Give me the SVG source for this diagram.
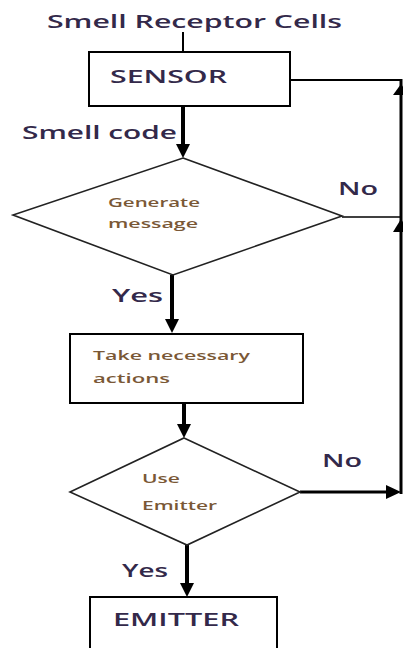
<svg xmlns="http://www.w3.org/2000/svg" width="403" height="648" viewBox="0 0 403 648">
<style>
  .box{fill:#fff;stroke:#000;stroke-width:2}
  .dia{fill:#fff;stroke:#222;stroke-width:1.6}
  .thin{stroke:#000;stroke-width:2;fill:none}
  .thick{stroke:#000;stroke-width:4;fill:none}
  .head{fill:#000}
  .big{font-family:"Open Sans","Liberation Sans",sans-serif;font-size:18px;font-weight:600;fill:#33294a}
  .small{font-family:"Open Sans","Liberation Sans",sans-serif;font-size:13px;font-weight:600;fill:#7a5836}
</style>
<rect width="403" height="648" fill="#fff"/>
<g id="connectors">
  <line class="thin" x1="183" y1="32" x2="183" y2="52"/>
  <line class="thin" x1="290" y1="80" x2="402" y2="80"/>
  <line x1="401" y1="79" x2="401" y2="494" stroke="#000" stroke-width="3"/>
  <polygon class="head" points="401,84 393,95 409,95"/>
  <polygon class="head" points="401,219 393,232 409,232"/>
  <line x1="342" y1="217" x2="401" y2="217" stroke="#000" stroke-width="1.6"/>
  <line class="thick" x1="183" y1="106" x2="183" y2="146"/>
  <polygon class="head" points="176,144 190,144 183,158"/>
  <line class="thick" x1="172" y1="275" x2="172" y2="321"/>
  <polygon class="head" points="165,319 179,319 172,333"/>
  <line class="thick" x1="184" y1="403" x2="184" y2="426"/>
  <polygon class="head" points="177,424 191,424 184,438"/>
  <line class="thick" x1="187" y1="545" x2="187" y2="585"/>
  <polygon class="head" points="180,583 194,583 187,597"/>
  <line x1="300" y1="492" x2="388" y2="492" stroke="#000" stroke-width="3"/>
  <polygon class="head" points="386,485 386,499 401,492"/>
</g>
<g id="label-top"><text class="big" x="47" y="28" textLength="295" lengthAdjust="spacingAndGlyphs">Smell Receptor Cells</text></g>
<g id="sensor">
  <rect class="box" x="89" y="52" width="201" height="54"/>
  <text class="big" x="110" y="83" textLength="117" lengthAdjust="spacingAndGlyphs">SENSOR</text>
</g>
<g id="label-smellcode"><text class="big" x="22" y="139" textLength="155" lengthAdjust="spacingAndGlyphs">Smell code</text></g>
<g id="generate">
  <polygon class="dia" points="183,158 342,216 173,275 13,215"/>
  <text class="small" x="108" y="207" textLength="92" lengthAdjust="spacingAndGlyphs">Generate</text>
  <text class="small" x="108" y="228" textLength="90" lengthAdjust="spacingAndGlyphs">message</text>
</g>
<g id="label-no1"><text class="big" x="338" y="195" textLength="40" lengthAdjust="spacingAndGlyphs">No</text></g>
<g id="label-yes1"><text class="big" x="112" y="302" textLength="51" lengthAdjust="spacingAndGlyphs">Yes</text></g>
<g id="actions">
  <rect class="box" x="70" y="334" width="233" height="69"/>
  <text class="small" x="93" y="360" textLength="157" lengthAdjust="spacingAndGlyphs">Take necessary</text>
  <text class="small" x="93" y="383" textLength="77" lengthAdjust="spacingAndGlyphs">actions</text>
</g>
<g id="use-emitter">
  <polygon class="dia" points="184,438 300,492 187,545 70,492"/>
  <text class="small" x="142" y="483" textLength="38" lengthAdjust="spacingAndGlyphs">Use</text>
  <text class="small" x="142" y="510" textLength="75" lengthAdjust="spacingAndGlyphs">Emitter</text>
</g>
<g id="label-no2"><text class="big" x="322" y="467" textLength="40" lengthAdjust="spacingAndGlyphs">No</text></g>
<g id="label-yes2"><text class="big" x="122" y="577" textLength="46" lengthAdjust="spacingAndGlyphs">Yes</text></g>
<g id="emitter">
  <rect class="box" x="90" y="597" width="187" height="70"/>
  <text class="big" x="113" y="626" textLength="126" lengthAdjust="spacingAndGlyphs">EMITTER</text>
</g>
</svg>
